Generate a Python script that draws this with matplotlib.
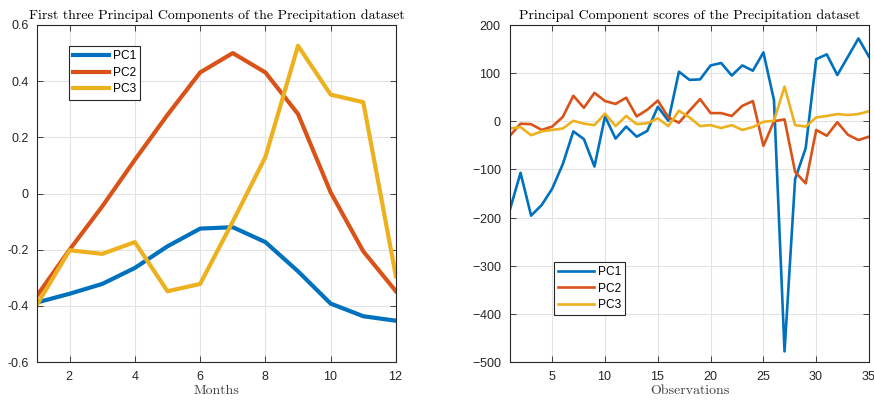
import matplotlib
matplotlib.use("Agg")
import matplotlib.pyplot as plt

COLORS = ["#0072BD", "#D95319", "#EDB120"]
SERIES = ["PC1", "PC2", "PC3"]

# loadings per month
months = list(range(1, 13))
pc1_load = [-0.388, -0.357, -0.322, -0.265, -0.188, -0.125, -0.12, -0.173, -0.277, -0.392, -0.437, -0.453]
pc2_load = [-0.364, -0.2, -0.046, 0.12, 0.28, 0.431, 0.5, 0.431, 0.283, 0.004, -0.206, -0.348]
pc3_load = [-0.396, -0.202, -0.215, -0.173, -0.348, -0.322, -0.1, 0.13, 0.526, 0.352, 0.325, -0.295]

# scores per observation
obs = list(range(1, 36))
pc1_score = [-183, -107, -196, -174, -140, -89, -21, -37, -94, 10,
             -36, -11, -32, -20, 30, 1, 103, 86, 87, 116,
             121, 95, 116, 105, 143, 44, -478, -120, -56, 129,
             139, 96, 134, 172, 134]
pc2_score = [-30, -5, -6, -18, -11, 9, 53, 28, 59, 42,
             36, 49, 10, 24, 43, 8, -3, 22, 46, 17,
             17, 11, 32, 42, -51, 0, 4, -105, -129, -18,
             -30, -2, -28, -39, -32]
pc3_score = [-15, -12, -29, -21, -18, -15, 1, -5, -8, 16,
             -10, 11, -6, -4, 6, -10, 22, 8, -10, -8,
             -14, -8, -18, -12, -1, 1, 72, -8, -11, 8,
             11, 15, 13, 15, 21]

plt.rcParams["font.family"] = ["Liberation Sans", "DejaVu Sans"]
plt.rcParams["axes.unicode_minus"] = False
plt.rcParams["axes.formatter.use_mathtext"] = True

TICK_COLOR = "#262626"


def style_axes(ax):
    ax.grid(True, color="#e3e3e3", linewidth=0.8)
    ax.set_axisbelow(True)
    ax.tick_params(direction="in", top=True, right=True, labelsize=9,
                   colors=TICK_COLOR, length=4, width=0.6, pad=6)
    for s in ax.spines.values():
        s.set_color(TICK_COLOR)
        s.set_linewidth(0.8)


def add_legend(ax, anchor):
    leg = ax.legend(loc="upper left", bbox_to_anchor=anchor, fontsize=8.6,
                    fancybox=False, framealpha=1, edgecolor="#262626",
                    handlelength=3.0, borderpad=0.35, labelspacing=0.38,
                    handletextpad=0.3, borderaxespad=0)
    leg.get_frame().set_linewidth(0.8)
    return leg


fig = plt.figure(figsize=(8.74, 4.03), dpi=100)
ax1 = fig.add_axes([0.0423, 0.1017, 0.4107, 0.8363])
ax2 = fig.add_axes([0.5835, 0.1017, 0.4108, 0.8363])

for vals, name, c in zip([pc1_load, pc2_load, pc3_load], SERIES, COLORS):
    ax1.plot(months, vals, color=c, linewidth=3, label=name)
ax1.set_xlim(1, 12)
ax1.set_ylim(-0.6, 0.6)
ax1.set_xticks([2, 4, 6, 8, 10, 12])
ax1.set_yticks([-0.6, -0.4, -0.2, 0, 0.2, 0.4, 0.6])
ax1.set_yticklabels(["-0.6", "-0.4", "-0.2", "0", "0.2", "0.4", "0.6"])
ax1.set_title("First three Principal Components of the Precipitation dataset",
              fontfamily="cmr10", fontsize=10, pad=4)
ax1.set_xlabel("Months", fontfamily="cmr10", fontsize=10, color="#404040", labelpad=1)
style_axes(ax1)
add_legend(ax1, (0.089, 0.937))

for vals, name, c in zip([pc1_score, pc2_score, pc3_score], SERIES, COLORS):
    ax2.plot(obs, vals, color=c, linewidth=1.9, label=name)
ax2.set_xlim(1, 35)
ax2.set_ylim(-500, 200)
ax2.set_xticks([5, 10, 15, 20, 25, 30, 35])
ax2.set_yticks(range(-500, 201, 100))
ax2.set_title("Principal Component scores of the Precipitation dataset",
              fontfamily="cmr10", fontsize=10, pad=4)
ax2.set_xlabel("Observations", fontfamily="cmr10", fontsize=10, color="#404040", labelpad=1)
style_axes(ax2)
add_legend(ax2, (0.123, 0.297))

fig.savefig("out.png", dpi=100)
